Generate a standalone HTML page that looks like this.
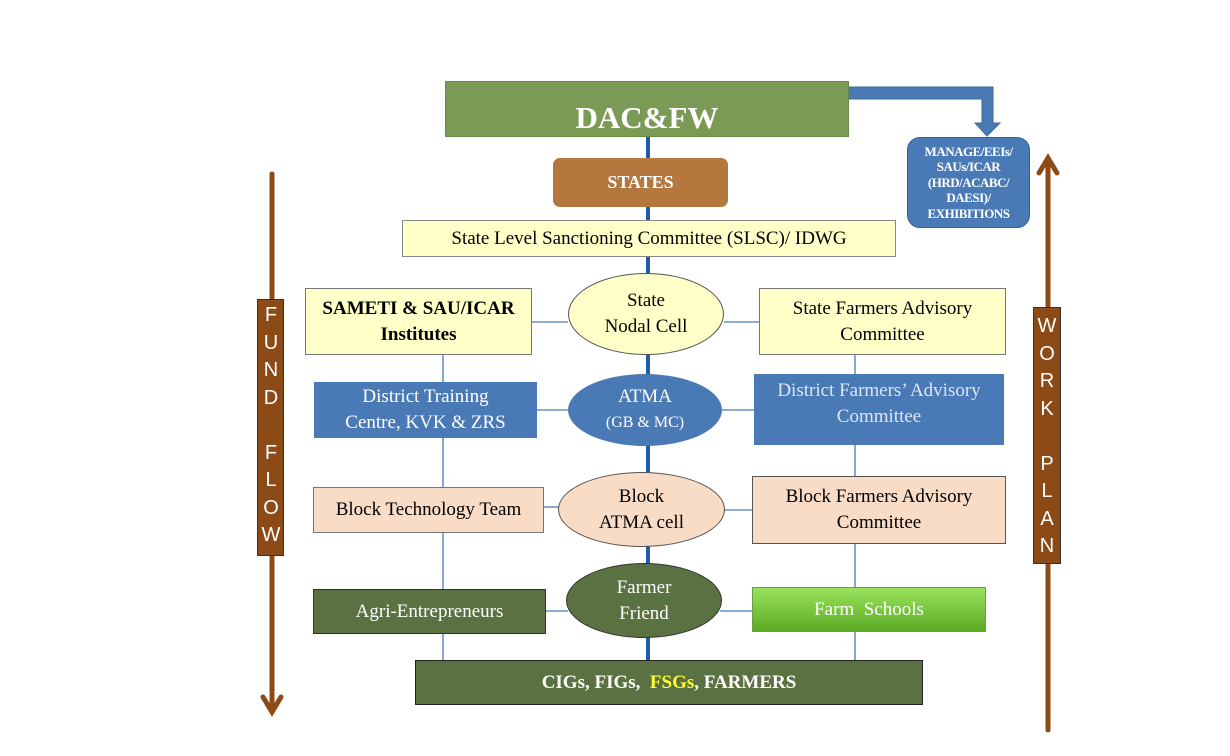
<!DOCTYPE html>
<html><head><meta charset="utf-8"><style>
body{margin:0;width:1230px;height:756px;background:#fff;position:relative;overflow:hidden;font-family:"Liberation Serif",serif;}
.b{position:absolute;box-sizing:border-box;display:flex;align-items:center;justify-content:center;text-align:center;line-height:1.35;}
.v{position:absolute;color:#fff;font-family:"Liberation Sans",sans-serif;font-size:20px;text-align:center;width:28px;line-height:27.5px;}
</style></head><body>
<svg width="1230" height="756" style="position:absolute;left:0;top:0">
<g stroke="#4a7ab5" stroke-width="1.3" fill="none">
<line x1="443" y1="355" x2="443" y2="662"/>
<line x1="855" y1="355" x2="855" y2="662"/>
<line x1="532" y1="322" x2="568" y2="322"/>
<line x1="724" y1="322" x2="759" y2="322"/>
<line x1="537" y1="410" x2="568" y2="410"/>
<line x1="722" y1="410" x2="754" y2="410"/>
<line x1="544" y1="507" x2="560" y2="507"/>
<line x1="724" y1="510" x2="752" y2="510"/>
<line x1="546" y1="611" x2="568" y2="611"/>
<line x1="720" y1="611" x2="752" y2="611"/>
</g>
<line x1="648" y1="137" x2="648" y2="662" stroke="#1f5cb0" stroke-width="4"/>
<polygon points="849,87 993,87 993,123 1000,123 987,136 975,123 982,123 982,99 849,99" fill="#4a7ab5" stroke="#3d6a9c" stroke-width="1"/>
<g stroke="#8b4a16" stroke-width="5" fill="none" stroke-linecap="round">
<line x1="272" y1="174" x2="272" y2="712"/>
<polyline points="263,697 272,712 281,697"/>
<line x1="1048" y1="730" x2="1048" y2="158"/>
<polyline points="1039,173 1048,158 1057,173"/>
</g>
</svg>
<div class="b" style="left:445px;top:81px;width:404px;height:56px;background:#7a9a56;border:1px solid #6a8848;color:#fff;font-size:31px;font-weight:bold;padding-top:18px;">DAC&amp;FW</div>
<div class="b" style="left:907px;top:137px;width:123px;height:91px;background:#4a7ab5;border:1.5px solid #355f90;border-radius:13px;color:#fff;font-size:13px;font-weight:bold;line-height:15.5px;letter-spacing:-0.5px;"><div>MANAGE/EEIs/<br>SAUs/ICAR<br>(HRD/ACABC/<br>DAESI)/<br>EXHIBITIONS</div></div>
<div class="b" style="left:553px;top:158px;width:175px;height:49px;background:#b4783f;border-radius:7px;color:#fff;font-size:18px;font-weight:bold;">STATES</div>
<div class="b" style="left:402px;top:220px;width:494px;height:37px;background:#ffffc8;border:1px solid #888;font-size:19px;">State Level Sanctioning Committee (SLSC)/ IDWG</div>
<div class="b" style="left:305px;top:288px;width:227px;height:67px;background:#ffffc8;border:1px solid #777;font-size:19px;font-weight:bold;"><div>SAMETI &amp; SAU/ICAR<br>Institutes</div></div>
<div class="b" style="left:568px;top:273px;width:156px;height:82px;background:#ffffc8;border:1px solid #555;border-radius:50%;font-size:19px;"><div>State<br>Nodal Cell</div></div>
<div class="b" style="left:759px;top:288px;width:247px;height:67px;background:#ffffc8;border:1px solid #777;font-size:19px;"><div>State Farmers Advisory<br>Committee</div></div>
<div class="b" style="left:314px;top:382px;width:223px;height:56px;background:#4a7ab5;color:#fff;font-size:19px;"><div>District Training<br>Centre, KVK &amp; ZRS</div></div>
<div class="b" style="left:568px;top:374px;width:154px;height:72px;background:#4a7ab5;border-radius:50%;color:#fff;font-size:19px;line-height:1.3;"><div>ATMA<br><span style="font-size:16px">(GB &amp; MC)</span></div></div>
<div class="b" style="left:754px;top:374px;width:250px;height:71px;background:#4a7ab5;color:#dde6f2;font-size:19px;align-items:flex-start;padding-top:4px;"><div>District Farmers’ Advisory<br>Committee</div></div>
<div class="b" style="left:313px;top:487px;width:231px;height:46px;background:#f8dcc6;border:1px solid #777;font-size:19px;">Block Technology Team</div>
<div class="b" style="left:558px;top:472px;width:167px;height:75px;background:#f8dcc6;border:1px solid #555;border-radius:50%;font-size:19px;"><div>Block<br>ATMA cell</div></div>
<div class="b" style="left:752px;top:476px;width:254px;height:68px;background:#f8dcc6;border:1px solid #555;font-size:19px;"><div>Block Farmers Advisory<br>Committee</div></div>
<div class="b" style="left:313px;top:589px;width:233px;height:45px;background:#5a7242;border:1px solid #333;color:#fff;font-size:19px;">Agri-Entrepreneurs</div>
<div class="b" style="left:566px;top:563px;width:156px;height:75px;background:#5a7242;border:1px solid #333;border-radius:50%;color:#fff;font-size:19px;"><div>Farmer<br>Friend</div></div>
<div class="b" style="left:752px;top:587px;width:234px;height:45px;background:linear-gradient(#9ae25c,#5cab24);border:1px solid #6aa040;color:#fff;font-size:19px;">Farm&nbsp; Schools</div>
<div class="b" style="left:415px;top:660px;width:508px;height:45px;background:#5a7242;border:1px solid #222;color:#fff;font-size:19px;font-weight:bold;"><div>CIGs, FIGs,&nbsp; <span style="color:#ffff30">FSGs</span>, FARMERS</div></div>
<div style="position:absolute;left:257px;top:299px;width:27px;height:257px;background:#8b4a16;border:1px solid #333;box-sizing:border-box"></div>
<div class="v" style="left:257px;top:302px;">F<br>U<br>N<br>D<br><br>F<br>L<br>O<br>W</div>
<div style="position:absolute;left:1033px;top:307px;width:28px;height:257px;background:#8b4a16;border:1px solid #333;box-sizing:border-box"></div>
<div class="v" style="left:1033px;top:313px;">W<br>O<br>R<br>K<br><br>P<br>L<br>A<br>N</div>
</body></html>
